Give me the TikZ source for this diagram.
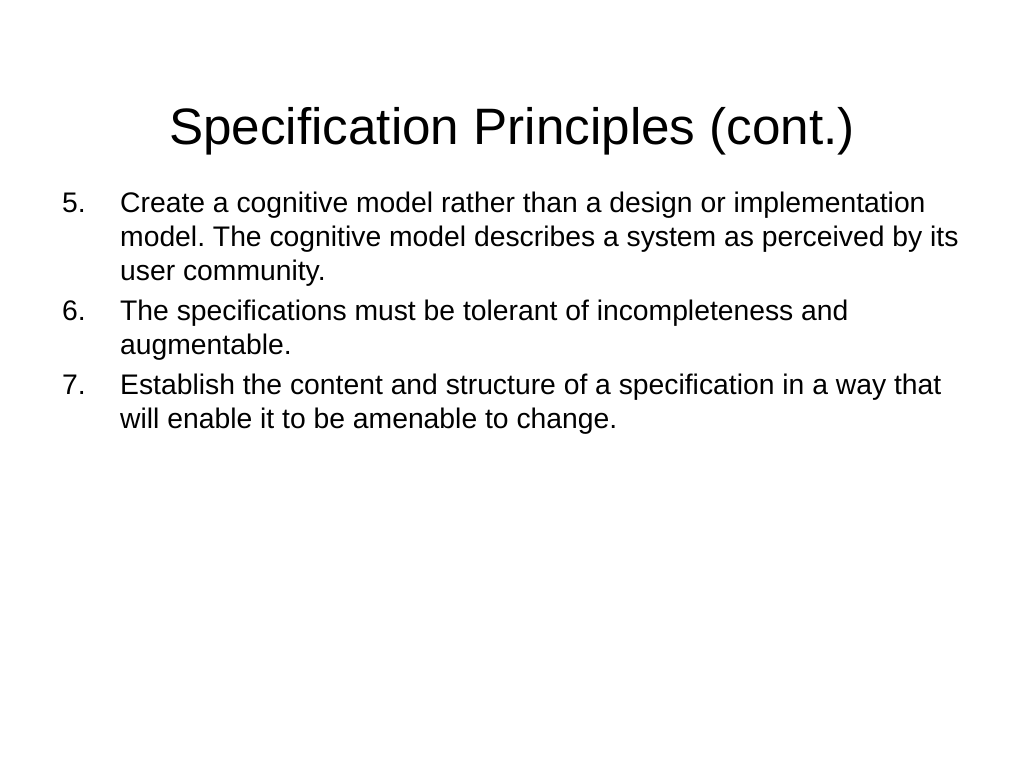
\documentclass[tikz,border=0pt]{standalone}
\usepackage{fontspec}
\setmainfont{Liberation Sans}
\begin{document}
\frenchspacing
\begin{tikzpicture}[x=1pt,y=-1pt,
  title/.style={anchor=base,inner sep=0pt,font=\fontsize{51.2}{60}\selectfont},
  num/.style={anchor=base west,inner sep=0pt,font=\fontsize{28.3}{34}\selectfont},
  body/.style={anchor=base west,inner sep=0pt,font=\fontsize{28.3}{34}\selectfont}]
\useasboundingbox[fill=white] (0,0) rectangle (1024,768);
\node[title] (t) at (512,144) {Specification Principles (cont.)};
\node[num] (n5) at (62,212) {5.};
\node[body] (l1) at (120,212) {Create a cognitive model rather than a design or implementation};
\node[body] (l2) at (120,246) {model. The cognitive model describes a system as perceived by its};
\node[body] (l3) at (120,280) {user community.};
\node[num] (n6) at (62,320) {6.};
\node[body] (l4) at (120,320) {The specifications must be tolerant of incompleteness and};
\node[body] (l5) at (120,354) {augmentable.};
\node[num] (n7) at (62,394) {7.};
\node[body] (l6) at (120,394) {Establish the content and structure of a specification in a way that};
\node[body] (l7) at (120,428) {will enable it to be amenable to change.};
\end{tikzpicture}
\end{document}
